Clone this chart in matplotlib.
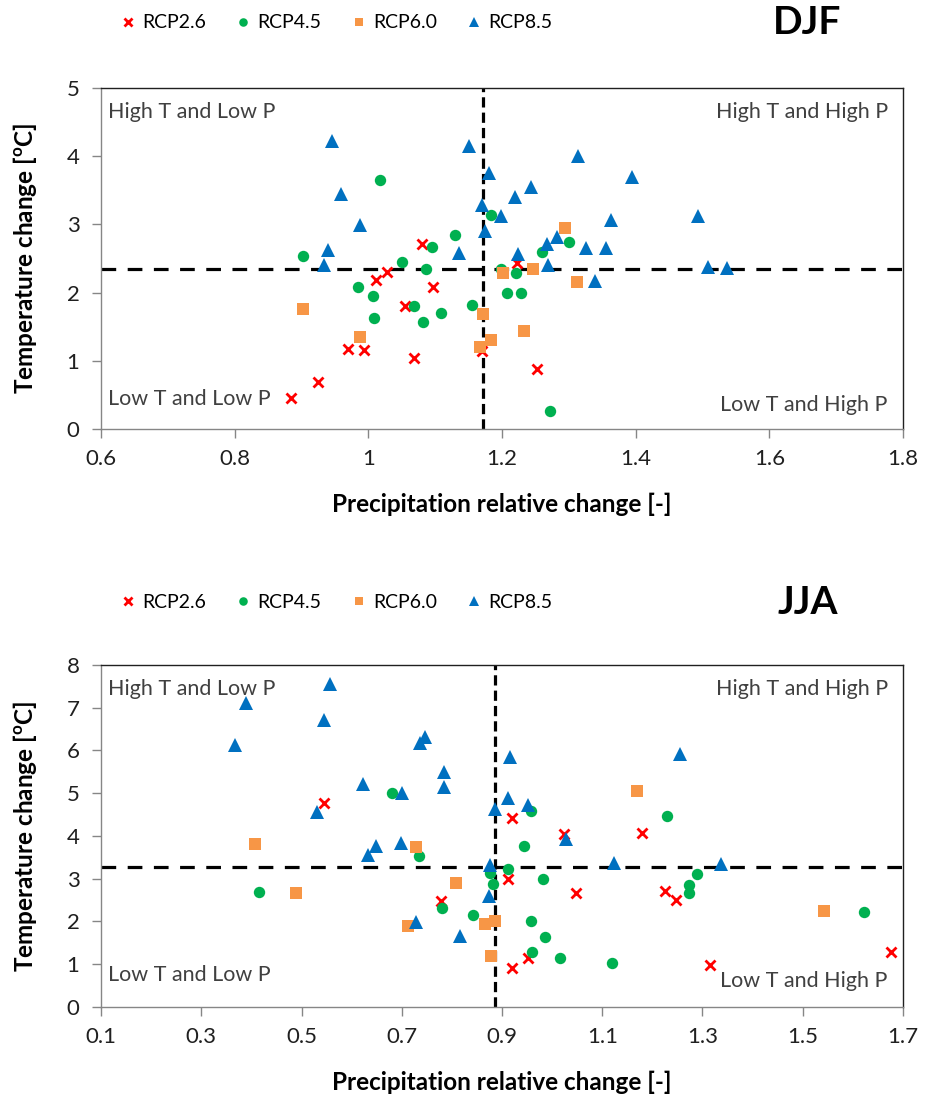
import matplotlib
matplotlib.use("Agg")
import matplotlib.pyplot as plt

plt.rcParams["font.family"] = ["Lato", "DejaVu Sans"]
plt.rcParams["mathtext.fontset"] = "custom"
plt.rcParams["mathtext.rm"] = "Lato"
plt.rcParams["mathtext.bf"] = "Lato:bold"

SCENARIOS = ["RCP2.6", "RCP4.5", "RCP6.0", "RCP8.5"]
COLORS = ["#FF0000", "#00B050", "#F79646", "#0070C0"]
MARKERS = ["x", "o", "s", "^"]
MSIZES = [7.5, 8.2, 8.2, 9.6]

# DJF: precipitation relative change / temperature change per scenario
djf_p26 = [1.080, 1.028, 1.012, 1.097, 1.055, 0.970, 0.993, 1.069, 0.925, 0.885, 1.222, 1.170, 1.253]
djf_t26 = [2.72, 2.30, 2.18, 2.08, 1.80, 1.17, 1.16, 1.04, 0.69, 0.46, 2.44, 1.14, 0.88]
djf_p45 = [1.017, 1.184, 1.129, 1.096, 0.902, 1.051, 1.087, 0.984, 1.007, 1.069, 1.109,
           1.155, 1.008, 1.082, 1.301, 1.260, 1.198, 1.221, 1.207, 1.228, 1.272]
djf_t45 = [3.65, 3.14, 2.85, 2.67, 2.53, 2.45, 2.35, 2.08, 1.95, 1.80, 1.70,
           1.82, 1.63, 1.57, 2.74, 2.60, 2.34, 2.29, 2.00, 1.99, 0.27]
djf_p60 = [0.902, 1.171, 0.988, 1.184, 1.167, 1.295, 1.201, 1.247, 1.312, 1.233]
djf_t60 = [1.76, 1.69, 1.35, 1.31, 1.20, 2.95, 2.29, 2.34, 2.16, 1.44]
djf_p85 = [0.946, 1.151, 1.180, 0.959, 1.170, 1.198, 0.988, 1.174, 0.940, 1.136, 0.934, 1.314, 1.395,
           1.243, 1.219, 1.493, 1.363, 1.282, 1.267, 1.326, 1.355, 1.224, 1.269, 1.508, 1.537, 1.339]
djf_t85 = [4.22, 4.15, 3.75, 3.45, 3.29, 3.13, 2.99, 2.91, 2.63, 2.58, 2.41, 4.00, 3.70,
           3.55, 3.40, 3.13, 3.07, 2.81, 2.72, 2.66, 2.66, 2.57, 2.41, 2.37, 2.36, 2.17]

# JJA
jja_p26 = [0.544, 0.919, 1.024, 1.180, 0.779, 0.911, 1.047, 1.225, 1.247, 0.952, 0.919, 1.315, 1.676]
jja_t26 = [4.76, 4.41, 4.04, 4.06, 2.48, 2.98, 2.66, 2.71, 2.50, 1.13, 0.91, 0.98, 1.27]
jja_p45 = [0.681, 0.958, 1.229, 0.735, 0.876, 0.882, 0.415, 0.781, 0.843, 0.944, 0.912,
           0.982, 1.290, 1.274, 1.274, 1.623, 0.957, 0.986, 0.960, 1.016, 1.119]
jja_t45 = [5.00, 4.58, 4.47, 3.53, 3.14, 2.87, 2.68, 2.32, 2.14, 3.77, 3.22,
           2.98, 3.11, 2.85, 2.66, 2.21, 2.01, 1.63, 1.27, 1.13, 1.03]
jja_p60 = [1.170, 0.408, 0.728, 0.809, 0.490, 0.713, 0.866, 0.886, 0.878, 1.543]
jja_t60 = [5.04, 3.80, 3.75, 2.90, 2.66, 1.90, 1.93, 2.01, 1.19, 2.24]
jja_p85 = [0.556, 0.390, 0.544, 0.367, 0.746, 0.736, 0.785, 0.785, 0.623, 0.700, 0.531, 0.886, 0.916,
           1.255, 0.912, 0.951, 1.028, 0.648, 0.633, 0.698, 0.876, 0.874, 0.728, 0.817, 1.124, 1.336]
jja_t85 = [7.55, 7.12, 6.71, 6.13, 6.31, 6.18, 5.49, 5.15, 5.21, 5.00, 4.55, 4.62, 5.85,
           5.92, 4.88, 4.72, 3.93, 3.76, 3.55, 3.83, 3.32, 2.58, 1.99, 1.66, 3.37, 3.33]

# thresholds separating the quadrants
djf_p_ref, djf_t_ref = 1.171, 2.353
jja_p_ref, jja_t_ref = 0.886, 3.28

djf_xticks = [0.6, 0.8, 1.0, 1.2, 1.4, 1.6, 1.8]
djf_xlabels = ["0.6", "0.8", "1", "1.2", "1.4", "1.6", "1.8"]
djf_yticks = [0, 1, 2, 3, 4, 5]
jja_xticks = [0.1, 0.3, 0.5, 0.7, 0.9, 1.1, 1.3, 1.5, 1.7]
jja_xlabels = ["0.1", "0.3", "0.5", "0.7", "0.9", "1.1", "1.3", "1.5", "1.7"]
jja_yticks = [0, 1, 2, 3, 4, 5, 6, 7, 8]

AXIS_GREY = "#868686"
TEXT_GREY = "#404040"


def draw_panel(ax, season, series, p_ref, t_ref, xticks, xlabels, yticks, legend_y, low_y):
    xlim = (xticks[0], xticks[-1])
    ylim = (yticks[0], yticks[-1])

    ax.plot(xlim, [t_ref, t_ref], color="black", lw=2.3, dashes=(4.6, 3.6), zorder=1)
    ax.plot([p_ref, p_ref], ylim, color="black", lw=2.3, dashes=(3.2, 1.6), zorder=1)

    handles = []
    for (px, ty), name, c, m, ms in zip(series, SCENARIOS, COLORS, MARKERS, MSIZES):
        if m == "x":
            h, = ax.plot(px, ty, ls="none", marker=m, ms=ms, mew=2.0, color=c, label=name, zorder=3)
        else:
            h, = ax.plot(px, ty, ls="none", marker=m, ms=ms, mew=0, color=c, label=name, zorder=3)
        handles.append(h)

    ax.set_xlim(*xlim)
    ax.set_ylim(*ylim)
    ax.set_xticks(xticks)
    ax.set_xticklabels(xlabels)
    ax.set_yticks(yticks)
    ax.tick_params(direction="out", length=6.5, width=1, color=AXIS_GREY,
                   labelsize=16, labelcolor="#202020")
    ax.tick_params(axis="x", pad=8)
    ax.tick_params(axis="y", pad=9)
    for side in ("left", "bottom"):
        ax.spines[side].set_color(AXIS_GREY)
        ax.spines[side].set_linewidth(1.0)
    for side in ("top", "right"):
        ax.spines[side].set_color("#202020")
        ax.spines[side].set_linewidth(1.0)

    ax.set_xlabel("Precipitation relative change [-]", fontsize=17.5, fontweight="bold", labelpad=17)
    ax.set_ylabel(r"Temperature change [$\mathbf{^{o}}$C]", fontsize=17.5, fontweight="bold", labelpad=20)

    kw = dict(transform=ax.transAxes, fontsize=15.5, color=TEXT_GREY)
    ax.text(0.009, 0.93, "High T and Low P", ha="left", va="center", **kw)
    ax.text(0.981, 0.93, "High T and High P", ha="right", va="center", **kw)
    ax.text(0.009, low_y[0], "Low T and Low P", ha="left", va="center", **kw)
    ax.text(0.981, low_y[1], "Low T and High P", ha="right", va="center", **kw)

    ax.legend(handles=handles, loc="center left", bbox_to_anchor=(0.119, legend_y),
              bbox_transform=ax.figure.transFigure, ncol=4, frameon=False,
              fontsize=14, markerscale=0.75, handlelength=0.8, handletextpad=0.35,
              columnspacing=1.5, borderpad=0)
    ax.figure.text(0.873, legend_y, season, fontsize=28, fontweight="bold",
                   ha="center", va="center")


fig = plt.figure(figsize=(9.25, 10.99), dpi=100)
ax_djf = fig.add_axes([0.1092, 0.6096, 0.8670, 0.3103])
ax_jja = fig.add_axes([0.1092, 0.0840, 0.8670, 0.3109])

draw_panel(ax_djf, "DJF",
           [(djf_p26, djf_t26), (djf_p45, djf_t45), (djf_p60, djf_t60), (djf_p85, djf_t85)],
           djf_p_ref, djf_t_ref, djf_xticks, djf_xlabels, djf_yticks, 1 - 23 / 1099, (0.088, 0.07))
draw_panel(ax_jja, "JJA",
           [(jja_p26, jja_t26), (jja_p45, jja_t45), (jja_p60, jja_t60), (jja_p85, jja_t85)],
           jja_p_ref, jja_t_ref, jja_xticks, jja_xlabels, jja_yticks, 1 - 602 / 1099, (0.093, 0.075))

fig.savefig("out.png", dpi=100)
